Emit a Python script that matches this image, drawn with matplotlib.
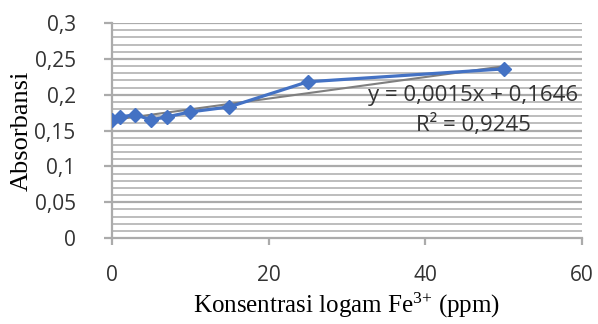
import matplotlib.pyplot as plt
import numpy as np
from matplotlib.ticker import MultipleLocator, FuncFormatter

plt.rcParams['mathtext.fontset'] = 'custom'
plt.rcParams['mathtext.rm'] = 'Liberation Serif'
plt.rcParams['mathtext.it'] = 'Liberation Serif:italic'

# data
konsentrasi = [0, 1, 3, 5, 7, 10, 15, 25, 50]
absorbansi = [0.165, 0.169, 0.172, 0.165, 0.169, 0.176, 0.183, 0.218, 0.236]
slope = 0.0015
intercept = 0.1646
r2 = 0.9245

fig = plt.figure(figsize=(5.98, 3.24), dpi=100)
ax = fig.add_axes([0.187, 0.265, 0.786, 0.664])

ax.set_xlim(0, 60)
ax.set_ylim(0, 0.3)
ax.xaxis.set_major_locator(MultipleLocator(20))
ax.yaxis.set_major_locator(MultipleLocator(0.05))
ax.yaxis.set_minor_locator(MultipleLocator(0.01))

# gridlines drawn by hand (major every 0.05, minor every 0.01)
for v in ax.yaxis.get_minorticklocs():
    ax.axhline(v, color='#bdbdbd', lw=1.4, zorder=1)
for v in ax.yaxis.get_majorticklocs():
    if v > 0:
        ax.axhline(v, color='#ababab', lw=1.6, zorder=1)

# trendline
xt = np.linspace(min(konsentrasi), max(konsentrasi), 50)
ax.plot(xt, slope * xt + intercept, color='#7f7f7f', lw=1.5, zorder=2)

ax.plot(konsentrasi, absorbansi, color='#4472C4', lw=2.3, marker='D',
        markersize=7, zorder=3)

def komma(v, pos):
    s = ('%.2f' % v).rstrip('0').rstrip('.')
    return s.replace('.', ',')

ax.yaxis.set_major_formatter(FuncFormatter(komma))

for s in ['top', 'right']:
    ax.spines[s].set_visible(False)
ax.spines['left'].set_color('#ababab')
ax.spines['bottom'].set_color('#ababab')
ax.spines['left'].set_linewidth(1.6)
ax.spines['bottom'].set_linewidth(1.6)

ax.tick_params(axis='y', which='major', length=6, color='#ababab', width=1.6,
               labelsize=15, labelcolor='#333333', pad=20)
ax.tick_params(axis='y', which='minor', length=0)
ax.tick_params(axis='x', length=5, color='#ababab', width=1.6,
               labelsize=15, labelcolor='#333333', pad=14)
for lab in ax.get_xticklabels() + ax.get_yticklabels():
    lab.set_family('Open Sans')

ax.set_ylabel('Absorbansi', family='Liberation Serif', fontsize=19, labelpad=1)
ax.set_xlabel(r'Konsentrasi logam Fe$^{3{+}}$ (ppm)', family='Liberation Serif',
              fontsize=18, labelpad=4)

eq = 'y = ' + ('%.4f' % slope).replace('.', ',') + 'x + ' + ('%.4f' % intercept).replace('.', ',')
ax.text(46.1, 0.1995, eq, ha='center', va='center', fontsize=16,
        family='Open Sans', color='#333333')
ax.text(46.1, 0.1577, 'R² = ' + ('%.4f' % r2).replace('.', ','), ha='center',
        va='center', fontsize=16, family='Open Sans', color='#333333')

fig.savefig('out.png', dpi=100)
